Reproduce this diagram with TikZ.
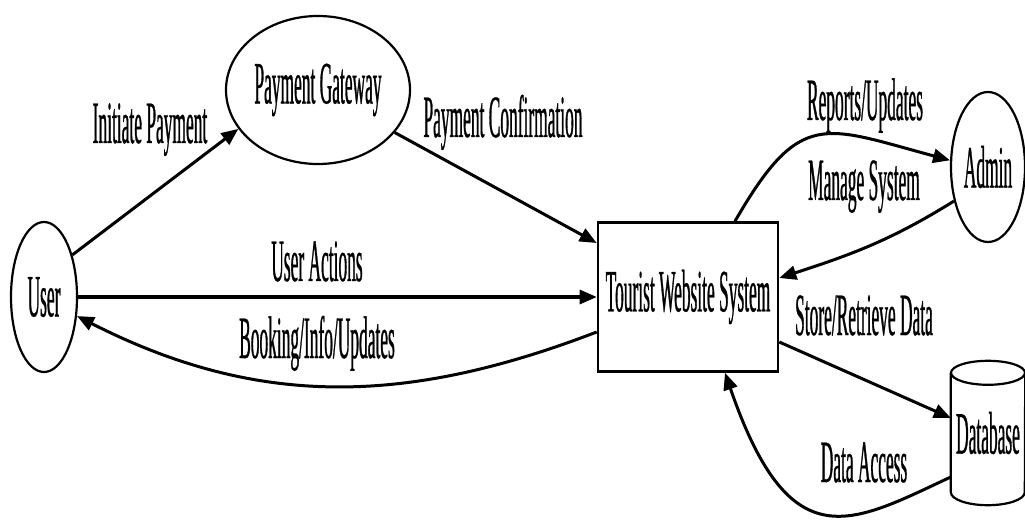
\documentclass[tikz,border=0pt]{standalone}
\usepackage{fontspec}
\setmainfont[FakeStretch=0.29,FakeBold=0.5]{Liberation Serif}
\usetikzlibrary{arrows.meta,shapes.geometric,calc}
\begin{document}
\begin{tikzpicture}[x=1pt,y=-1pt,
  font=\fontsize{60}{60}\selectfont,
  lab/.style={inner sep=0pt, anchor=base},
  ell/.style={ellipse, draw, line width=2.2pt, inner sep=0pt},
  flow/.style={line width=3pt, -{Triangle[length=17pt,width=14pt]}},
]
\useasboundingbox (0,0) rectangle (1025,521);
% nodes
\node[ell, minimum width=66pt, minimum height=150pt] (user) at (44,297) {User};
\node[ell, minimum width=184pt, minimum height=148pt] (pg) at (318,90) {Payment Gateway};
\node[draw, line width=2.6pt, inner sep=0pt, minimum width=180pt, minimum height=149pt] (tws) at (688,297) {Tourist Website System};
\node[ell, minimum width=74pt, minimum height=150pt] (admin) at (988,167) {Admin};
\node[inner sep=0pt, minimum width=74pt, minimum height=144pt] (db) at (988,433) {Database};
% database cylinder
\draw[line width=2.2pt] ($(db.north west)+(0,12)$) -- ($(db.south west)+(0,-13)$)
  arc[start angle=180, end angle=360, x radius=37pt, y radius=13pt]
  -- ($(db.north east)+(0,12)$);
\draw[line width=2.2pt] ($(db.north)+(0,12)$) ellipse [x radius=37pt, y radius=12pt];
% connectors
\draw[flow] (user.56) -- (pg.206);
\draw[flow] (pg.331) -- ([yshift=54pt]tws.west);
\draw[flow] (user.east) -- (tws.west);
\draw[flow] ([yshift=-35pt]tws.west) to[out=201,in=-27] (user.-30);
\draw[flow] ([xshift=47pt]tws.north) to[out=60,in=165,looseness=1.5] (admin.170);
\draw[flow] (admin.225) to[out=212,in=18] ([yshift=19pt]tws.east);
\draw[flow] ([yshift=-45pt]tws.east) -- ([yshift=15pt]db.west);
\draw[flow] ([yshift=-44pt]db.west) .. controls +(205:110pt) and +(289:200pt) .. ([xshift=37pt]tws.south);
% labels
\node[lab] (l1) at (150,143) {Initiate Payment};
\node[lab] (l2) at (503,137) {Payment Confirmation};
\node[lab] (l3) at (317,281) {User Actions};
\node[lab] (l4) at (317,358) {Booking/Info/Updates};
\node[lab] (l5) at (865,120) {Reports/Updates};
\node[lab] (l6) at (864,200) {Manage System};
\node[lab] (l7) at (864,335) {Store/Retrieve Data};
\node[lab] (l8) at (864,482) {Data Access};
\end{tikzpicture}
\end{document}
